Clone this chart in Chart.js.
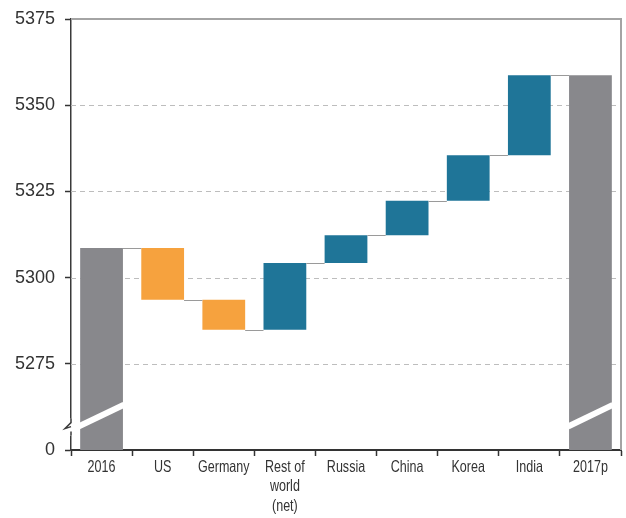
<!DOCTYPE html>
<html>
<head>
<meta charset="utf-8">
<script src="https://cdn.jsdelivr.net/npm/chart.js@4/dist/chart.umd.min.js"></script>
<style>
  html, body { margin: 0; padding: 0; background: #fff; }
  #wrap { width: 626px; height: 518px; }
</style>
</head>
<body>
<div id="wrap"><canvas id="chart"></canvas></div>
<script>
// waterfall: 2016 total, country contributions, 2017p total
const categories = ['2016', 'US', 'Germany', ['Rest of', 'world', '(net)'], 'Russia', 'China', 'Korea', 'India', '2017p'];
const startTotal = 5308.6;
const changes = [-15.0, -8.7, 19.3, 8.1, 10.0, 13.2, 23.2];
const endTotal = 5358.7;
const yTicks = [5250, 5275, 5300, 5325, 5350, 5375];
const axisBase = 5250; // shown as "0" below the break

const GREY = '#88888c';
const ORANGE = '#f6a23e';
const TEAL = '#1f7598';

// floating bars [from, to]
const bars = [[axisBase, startTotal]];
const colors = [GREY];
let level = startTotal;
changes.forEach(c => {
  bars.push([level, level + c]);
  colors.push(c < 0 ? ORANGE : TEAL);
  level += c;
});
bars.push([axisBase, endTotal]);
colors.push(GREY);

// dashed grid, frame, connectors, axis break and condensed category labels
const decor = {
  id: 'decor',
  beforeDatasetsDraw(chart) {
    const { ctx, chartArea: a, scales: { y } } = chart;
    ctx.save();
    ctx.strokeStyle = '#bdbdbd';
    ctx.lineWidth = 1;
    ctx.setLineDash([5, 4]);
    yTicks.slice(1, -1).forEach(v => {
      const py = Math.round(y.getPixelForValue(v)) + 0.5;
      ctx.beginPath();
      ctx.moveTo(a.left, py);
      ctx.lineTo(a.right, py);
      ctx.stroke();
    });
    ctx.setLineDash([]);
    ctx.strokeStyle = '#a4a4a4';
    ctx.lineWidth = 2;
    ctx.beginPath();
    ctx.moveTo(a.left, a.top);
    ctx.lineTo(a.right, a.top);
    ctx.lineTo(a.right, a.bottom);
    ctx.stroke();
    ctx.restore();
  },
  afterDatasetsDraw(chart) {
    const { ctx, chartArea: a, scales: { x, y } } = chart;
    const meta = chart.getDatasetMeta(0).data;
    ctx.save();
    // connectors between consecutive bars
    ctx.strokeStyle = '#9a9a9a';
    ctx.lineWidth = 1;
    for (let i = 0; i < meta.length - 1; i++) {
      const lvl = bars[i][1];
      const py = Math.round(y.getPixelForValue(lvl)) + 0.5;
      const x0 = meta[i].x + meta[i].width / 2;
      const x1 = meta[i + 1].x - meta[i + 1].width / 2;
      ctx.beginPath();
      ctx.moveTo(x0, py);
      ctx.lineTo(x1, py);
      ctx.stroke();
    }
    // break bands across the total bars
    ctx.strokeStyle = '#ffffff';
    ctx.lineWidth = 6;
    [0, meta.length - 1].forEach(i => {
      const b = meta[i];
      const xl = b.x - b.width / 2 - (i === 0 ? 10 : 1);
      const xr = b.x + b.width / 2 + 1;
      const yl = y.getPixelForValue(5256.8) + (i === 0 ? 4 : 0);
      const yr = y.getPixelForValue(5263.1);
      ctx.beginPath();
      ctx.moveTo(xl, yl);
      ctx.lineTo(xr, yr);
      ctx.stroke();
    });
    // zigzag on the value axis
    const by = y.getPixelForValue(5256.5);
    ctx.fillStyle = '#ffffff';
    ctx.fillRect(a.left - 3, by - 9, 6, 17);
    ctx.strokeStyle = '#3a3a3a';
    ctx.lineWidth = 1.5;
    ctx.beginPath();
    ctx.moveTo(a.left, by - 9);
    ctx.lineTo(a.left, by - 5);
    ctx.lineTo(a.left - 6, by + 1);
    ctx.lineTo(a.left, by - 1);
    ctx.stroke();
    ctx.beginPath();
    ctx.moveTo(a.left, by + 4);
    ctx.lineTo(a.left, by + 8);
    ctx.stroke();

    // category labels in a narrow face
    ctx.fillStyle = '#333';
    ctx.font = "16.5px 'Liberation Sans', Arial, sans-serif";
    ctx.textAlign = 'center';
    ctx.textBaseline = 'middle';
    categories.forEach((lab, i) => {
      const lines = Array.isArray(lab) ? lab : [lab];
      const cx = x.getPixelForTick(i);
      lines.forEach((t, k) => {
        ctx.save();
        ctx.translate(cx, a.bottom + 17 + k * 19.5);
        ctx.scale(0.76, 1);
        ctx.fillText(t, 0, 0);
        ctx.restore();
      });
    });
    ctx.restore();
  }
};

new Chart(document.getElementById('chart'), {
  type: 'bar',
  data: {
    labels: categories,
    datasets: [{
      data: bars,
      backgroundColor: colors,
      borderWidth: 0,
      barPercentage: 0.7,
      categoryPercentage: 1.0
    }]
  },
  options: {
    responsive: true,
    maintainAspectRatio: false,
    animation: false,
    layout: { padding: { top: 18, right: 5, left: 0, bottom: 0 } },
    plugins: {
      legend: { display: false },
      tooltip: { enabled: false }
    },
    scales: {
      x: {
        grid: { display: true, drawOnChartArea: false, tickLength: 6, tickColor: '#333', tickWidth: 1.5 },
        border: { color: '#333', width: 2 },
        ticks: { display: false, autoSkip: false },
        afterFit(scale) { scale.height = 68; }
      },
      y: {
        min: 5250,
        max: 5375,
        afterBuildTicks(scale) { scale.ticks = yTicks.map(v => ({ value: v })); },
        grid: { display: true, drawOnChartArea: false, tickLength: 6, tickColor: '#333', tickWidth: 1.5 },
        border: { color: '#3a3a3a', width: 1.5 },
        ticks: {
          color: '#333',
          padding: 10,
          font: { family: "'Liberation Sans', Arial, sans-serif", size: 18, lineHeight: 1 },
          callback: v => (v === axisBase ? '0' : String(v))
        },
        afterFit(scale) { scale.width = 71; }
      }
    }
  },
  plugins: [decor]
});
</script>
</body>
</html>
